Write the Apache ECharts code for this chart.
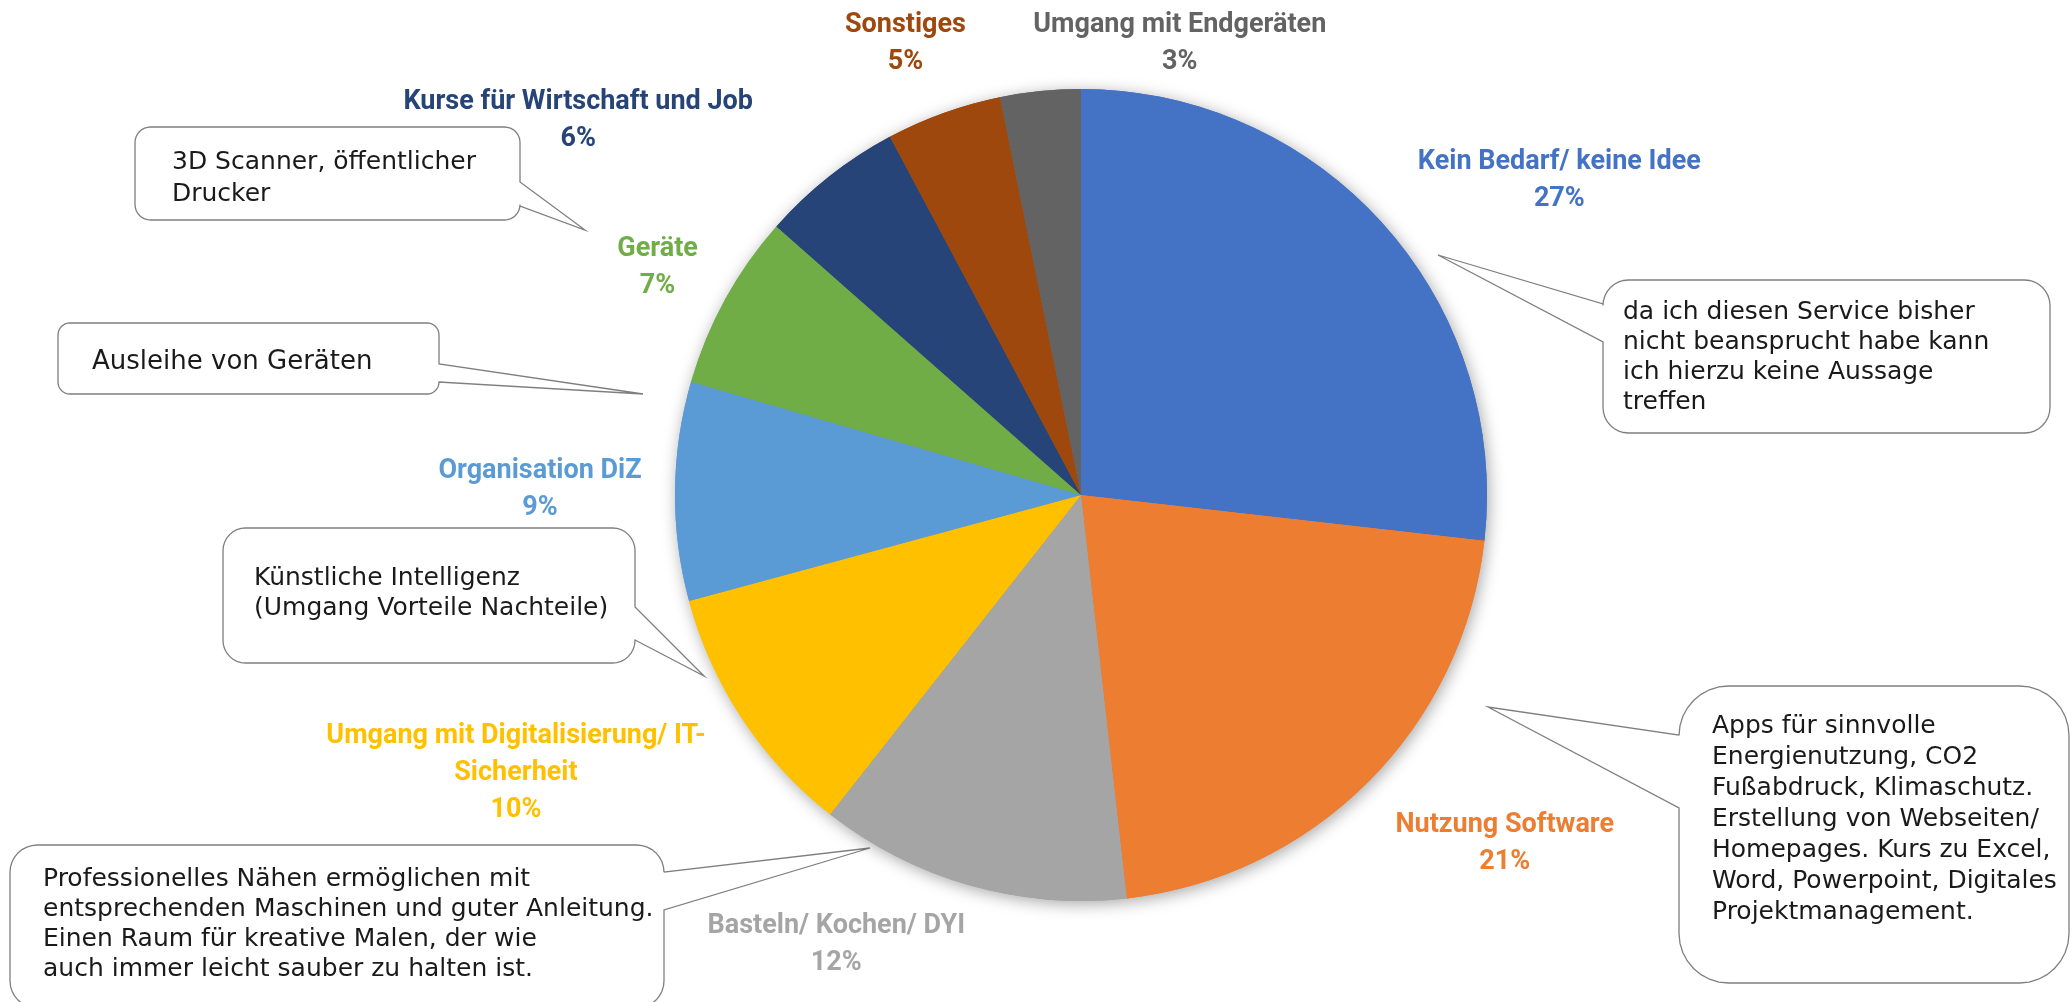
<!DOCTYPE html>
<html>
<head>
<meta charset="utf-8">
<title>Angebote DiZ</title>
<script src="https://cdn.jsdelivr.net/npm/echarts@6/dist/echarts.min.js"></script>
<style>
  html, body { margin: 0; padding: 0; background: #fff; }
  #main { width: 2071px; height: 1002px; }
</style>
</head>
<body>
<div id="main"></div>
<script>
// --- Daten ---
const categories = [
  'Kein Bedarf/ keine Idee',
  'Nutzung Software',
  'Basteln/ Kochen/ DYI',
  'Umgang mit Digitalisierung/ IT-Sicherheit',
  'Organisation DiZ',
  'Geräte',
  'Kurse für Wirtschaft und Job',
  'Sonstiges',
  'Umgang mit Endgeräten'
];
// Anteile in %, aus den Winkeln der Vorlage geschätzt
const shares = [26.8, 21.4, 12.4, 10.2, 8.7, 7.0, 5.7, 4.6, 3.2];

// Freitext-Kommentare (Sprechblasen)
const comments = [
  '3D Scanner, öffentlicher\nDrucker',
  'Ausleihe von Geräten',
  'da ich diesen Service bisher\nnicht beansprucht habe kann\nich hierzu keine Aussage\ntreffen',
  'Künstliche Intelligenz\n(Umgang Vorteile Nachteile)',
  'Professionelles Nähen ermöglichen mit\nentsprechenden Maschinen und guter Anleitung.\nEinen Raum für kreative Malen, der wie\nauch immer leicht sauber zu halten ist.',
  'Apps für sinnvolle\nEnergienutzung, CO2\nFußabdruck, Klimaschutz.\nErstellung von Webseiten/\nHomepages. Kurs zu Excel,\nWord, Powerpoint, Digitales\nProjektmanagement.'
];

// --- Aussehen ---
const colors = ['#4472C4', '#ED7D31', '#A5A5A5', '#FFC000', '#5B9BD5',
                '#70AD47', '#264478', '#9E480E', '#636363'];
const pieCenter = [1081, 495];
const pieRadius = 406;
const labelDist = 530;
// Feinjustierung der Beschriftungen (wie in der Vorlage verschoben)
const labelNudge = [[83, 39], [49, -26], [-100, -60], [-123, -14], [-11, 0],
                    [41, 28], [-174, 41], [4, 47], [152, 76]];

// Sprechblasen: Kasten [x, y, b, h], Seite des Zipfels, Zipfelbasis, Spitze, Text
const bubbles = [
  { box: [135, 127, 385, 93], side: 'right', base: [182, 206], tip: [585, 230], text: [172, 146], lh: 32, fs: 25 },
  { box: [58, 323, 381, 71], side: 'right', base: [364, 382], tip: [643, 394], text: [92, 346], lh: 32, fs: 26 },
  { box: [1603, 280, 447, 153], side: 'left', base: [304, 342], tip: [1438, 255], text: [1623, 297], lh: 30, fs: 25 },
  { box: [223, 528, 412, 135], side: 'right', base: [607, 640], tip: [704, 676], text: [254, 563], lh: 30, fs: 25 },
  { box: [10, 845, 654, 163], side: 'right', base: [872, 910], tip: [870, 848], text: [43, 864], lh: 30, fs: 25 },
  { box: [1679, 686, 390, 297], side: 'left', base: [735, 808], tip: [1488, 707], text: [1712, 711], lh: 31, fs: 25 }
];

function arcPts(cx, cy, r, a0, a1) {
  const pts = [];
  for (let k = 0; k <= 8; k++) {
    const a = (a0 + (a1 - a0) * k / 8) * Math.PI / 180;
    pts.push([cx + r * Math.cos(a), cy + r * Math.sin(a)]);
  }
  return pts;
}

// abgerundetes Rechteck mit Zipfel als Polygon
function bubblePoints(b) {
  const [x, y, w, h] = b.box;
  const r = Math.min(w, h) / 6;
  let pts = [];
  pts = pts.concat(arcPts(x + w - r, y + r, r, -90, 0));
  if (b.side === 'right') pts.push([x + w, b.base[0]], b.tip, [x + w, b.base[1]]);
  pts = pts.concat(arcPts(x + w - r, y + h - r, r, 0, 90));
  pts = pts.concat(arcPts(x + r, y + h - r, r, 90, 180));
  if (b.side === 'left') pts.push([x, b.base[1]], b.tip, [x, b.base[0]]);
  pts = pts.concat(arcPts(x + r, y + r, r, 180, 270));
  return pts;
}

const bubbleGraphics = bubbles.map((b, i) => ({
  type: 'group',
  z: 100,
  children: [
    {
      type: 'polygon',
      shape: { points: bubblePoints(b) },
      style: { fill: '#fff', stroke: '#7f7f7f', lineWidth: 1.3 }
    },
    {
      type: 'text',
      x: b.text[0],
      y: b.text[1],
      style: {
        text: comments[i],
        fontFamily: 'DejaVu Sans',
        fontSize: b.fs,
        lineHeight: b.lh,
        fill: '#1a1a1a',
        verticalAlign: 'top'
      }
    }
  ]
}));

const total = shares.reduce((a, v) => a + v, 0);
function midAngle(i) {
  let before = 0;
  for (let k = 0; k < i; k++) before += shares[k];
  return (before + shares[i] / 2) / total * 2 * Math.PI;
}

const pieData = categories.map((name, i) => ({
  name: name,
  value: shares[i],
  itemStyle: { color: colors[i] }
}));

var chartDom = document.getElementById('main');
var myChart = echarts.init(chartDom, null, { renderer: 'canvas' });
var option = {
  backgroundColor: '#fff',
  animation: false,
  graphic: { elements: bubbleGraphics },
  series: [
    {
      // nur für den weichen Schatten hinter dem Kreis
      type: 'pie',
      silent: true,
      center: pieCenter,
      radius: pieRadius,
      z: 1,
      label: { show: false },
      labelLine: { show: false },
      itemStyle: {
        shadowBlur: 16,
        shadowColor: 'rgba(0, 0, 0, 0.35)',
        shadowOffsetX: 2,
        shadowOffsetY: 3
      },
      data: pieData
    },
    {
      type: 'pie',
      center: pieCenter,
      radius: pieRadius,
      z: 2,
      avoidLabelOverlap: false,
      label: {
        show: true,
        position: 'outside',
        color: 'inherit',
        fontFamily: 'Roboto',
        fontWeight: 'bold',
        fontSize: 27,
        lineHeight: 37,
        align: 'center',
        formatter: p => p.name.replace('IT-', 'IT-\n') + '\n' + Math.round(p.percent) + '%'
      },
      labelLine: { show: false },
      labelLayout: function (params) {
        const a = midAngle(params.dataIndex);
        const n = labelNudge[params.dataIndex];
        return {
          x: pieCenter[0] + labelDist * Math.sin(a) + n[0],
          y: pieCenter[1] - labelDist * Math.cos(a) + n[1],
          align: 'center',
          verticalAlign: 'middle'
        };
      },
      data: pieData
    }
  ]
};
myChart.setOption(option);
</script>
</body>
</html>
